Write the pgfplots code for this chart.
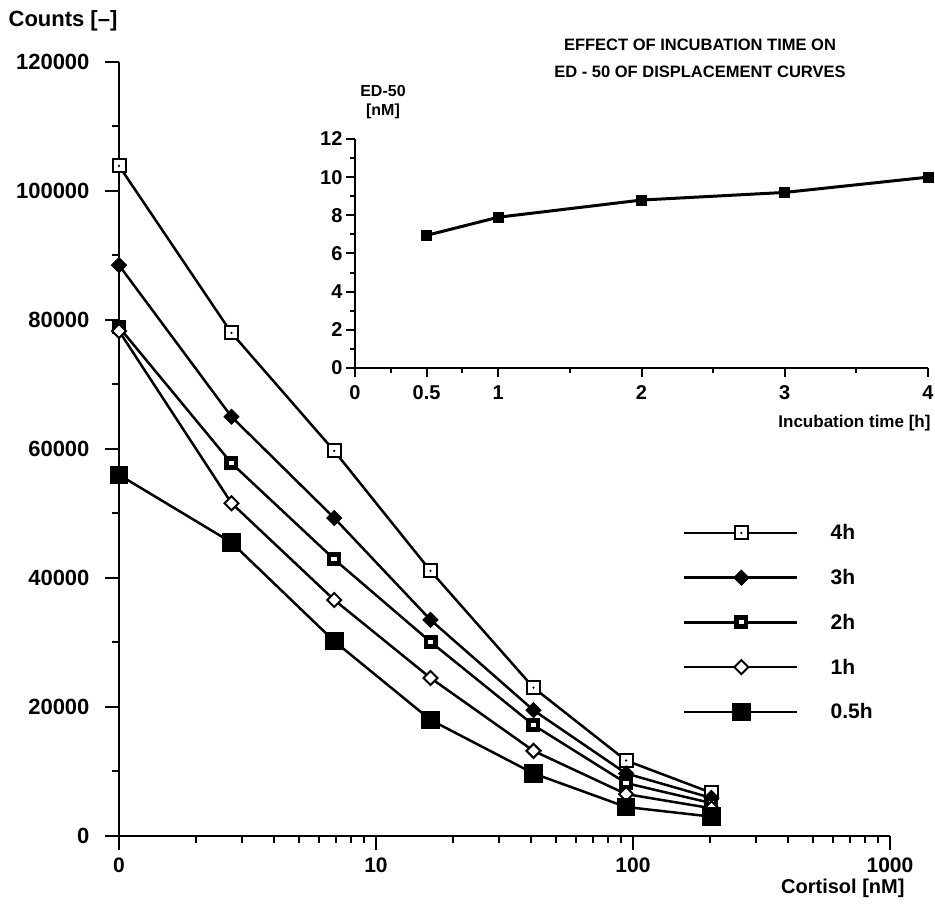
\documentclass[border=0pt]{standalone}
\usepackage{fontspec}
\setmainfont{Liberation Sans}
\usepackage{pgfplots}
\pgfplotsset{compat=1.18}

\pgfdeclareplotmark{sqdot}{%
  \pgfscope
  \pgfsetlinewidth{2pt}%
  \pgfpathrectangle{\pgfqpoint{-\pgfplotmarksize}{-\pgfplotmarksize}}{\pgfqpoint{2\pgfplotmarksize}{2\pgfplotmarksize}}%
  \pgfsetfillcolor{white}\pgfusepathqfillstroke
  \pgfpathcircle{\pgfpointorigin}{1.2pt}\pgfsetfillcolor{black}\pgfusepathqfill
  \endpgfscope
}
\pgfdeclareplotmark{sqhole}{%
  \pgfscope
  \pgfpathrectangle{\pgfqpoint{-\pgfplotmarksize}{-\pgfplotmarksize}}{\pgfqpoint{2\pgfplotmarksize}{2\pgfplotmarksize}}%
  \pgfsetfillcolor{black}\pgfusepathqfill
  \pgfpathrectangle{\pgfqpoint{-2.8pt}{-2pt}}{\pgfqpoint{5.6pt}{4pt}}%
  \pgfsetfillcolor{white}\pgfusepathqfill
  \endpgfscope
}
\pgfdeclareplotmark{diamondf}{%
  \pgfscope
  \pgfsetlinewidth{1pt}%
  \pgfpathmoveto{\pgfqpoint{0pt}{\pgfplotmarksize}}%
  \pgfpathlineto{\pgfqpoint{\pgfplotmarksize}{0pt}}%
  \pgfpathlineto{\pgfqpoint{0pt}{-\pgfplotmarksize}}%
  \pgfpathlineto{\pgfqpoint{-\pgfplotmarksize}{0pt}}%
  \pgfpathclose
  \pgfsetfillcolor{black}\pgfusepathqfillstroke
  \endpgfscope
}
\pgfdeclareplotmark{diamondo}{%
  \pgfscope
  \pgfsetlinewidth{2pt}%
  \pgfpathmoveto{\pgfqpoint{0pt}{\pgfplotmarksize}}%
  \pgfpathlineto{\pgfqpoint{\pgfplotmarksize}{0pt}}%
  \pgfpathlineto{\pgfqpoint{0pt}{-\pgfplotmarksize}}%
  \pgfpathlineto{\pgfqpoint{-\pgfplotmarksize}{0pt}}%
  \pgfpathclose
  \pgfsetfillcolor{white}\pgfusepathqfillstroke
  \endpgfscope
}

\begin{document}
\begin{tikzpicture}[font=\bfseries]
\useasboundingbox (0,0) rectangle (935pt,907pt);
\begin{axis}[
  at={(119pt,71pt)}, anchor=south west,
  scale only axis, width=771pt, height=774pt,
  xmode=log, xmin=1, xmax=1000, ymin=0, ymax=120000,
  axis lines*=left,
  axis line style={line width=2.5pt},
  xtick={1,10,100,1000}, xticklabels={0,10,100,1000},
  minor xtick={2,3,4,5,6,7,8,9,20,30,40,50,60,70,80,90,200,300,400,500,600,700,800,900},
  ytick={0,20000,40000,60000,80000,100000,120000},
  minor ytick={10000,30000,50000,70000,90000,110000},
  tick align=outside, major tick length=14pt, minor tick length=7pt,
  every tick/.style={line width=2pt, black},
  scaled y ticks=false,
  /pgf/number format/assume math mode=true,
  yticklabel style={/pgf/number format/fixed,/pgf/number format/1000 sep={}, xshift=-12pt, font=\fontsize{22}{26}\selectfont\bfseries},
  xticklabel style={yshift=-4pt, font=\fontsize{21}{25}\selectfont\bfseries},
  clip=false,
  legend style={at={(0.7276,0.4077)}, anchor=north west, draw=none, fill=none,
    font=\fontsize{21}{25}\selectfont\bfseries, row sep=24pt,
    /tikz/every odd column/.append style={column sep=30pt}},
  legend cell align=left,
  legend image code/.code={\draw[line width=2.5pt, mark repeat=2,mark phase=2] plot coordinates {(0pt,0pt) (57pt,0pt) (113pt,0pt)};},
]
\addplot[black, line width=2.5pt, mark=sqdot, mark size=6.5pt, mark options={solid}]
  coordinates {(1,103900) (2.74,78000) (6.88,59700) (16.3,41100) (41,23000) (94,11700) (202,6700)};
\addlegendentry{4h}
\addplot[black, line width=2.5pt, mark=diamondf, mark size=7.5pt, mark options={solid}]
  coordinates {(1,88500) (2.74,65000) (6.88,49300) (16.3,33500) (41,19500) (94,9700) (202,5900)};
\addlegendentry{3h}
\addplot[black, line width=2.5pt, mark=sqhole, mark size=7pt, mark options={solid}]
  coordinates {(1,78900) (2.74,57800) (6.88,42900) (16.3,30100) (41,17200) (94,8200) (202,5100)};
\addlegendentry{2h}
\addplot[black, line width=2.5pt, mark=diamondo, mark size=7pt, mark options={solid}]
  coordinates {(1,78300) (2.74,51600) (6.88,36600) (16.3,24500) (41,13200) (94,6500) (202,4300)};
\addlegendentry{1h}
\addplot[black, line width=2.5pt, mark=square*, mark size=8pt, mark options={fill=black, solid}]
  coordinates {(1,56000) (2.74,45500) (6.88,30200) (16.3,18000) (41,9700) (94,4500) (202,3000)};
\addlegendentry{0.5h}
\end{axis}

\begin{axis}[
  at={(355pt,539pt)}, anchor=south west,
  scale only axis, width=573pt, height=229pt,
  xmin=0, xmax=4, ymin=0, ymax=12,
  axis lines*=left,
  axis line style={line width=2.5pt},
  xtick={0,0.5,1,2,3,4}, xticklabels={0,0.5,1,2,3,4},
  minor xtick={0.25,0.75,1.5,2.5,3.5},
  ytick={0,2,4,6,8,10,12}, minor ytick={1,3,5,7,9,11},
  tick align=outside, major tick length=9pt, minor tick length=5pt,
  every tick/.style={line width=2pt, black},
  /pgf/number format/assume math mode=true,
  ticklabel style={font=\fontsize{20}{24}\selectfont\bfseries},
  xticklabel style={yshift=-5pt},
  clip=false,
]
\addplot[black, line width=3pt, mark=square*, mark size=4pt, mark options={solid}]
  coordinates {(0.5,6.95) (1,7.9) (2,8.8) (3,9.2) (4,10.0)};
\end{axis}

\node[font=\fontsize{22}{26}\selectfont\bfseries] at (63pt,886pt) {Counts [\textendash]};
\node[font=\fontsize{20}{24}\selectfont\bfseries, anchor=east] at (908pt,19pt) {Cortisol [nM]};
\node[font=\fontsize{16.5}{20}\selectfont\bfseries] at (700pt,862pt) {EFFECT OF INCUBATION TIME ON};
\node[font=\fontsize{16.5}{20}\selectfont\bfseries] at (700pt,835pt) {ED - 50 OF DISPLACEMENT CURVES};
\node[font=\fontsize{16}{19}\selectfont\bfseries] at (383pt,816pt) {ED-50};
\node[font=\fontsize{16}{19}\selectfont\bfseries] at (383pt,796pt) {[nM]};
\node[font=\fontsize{17}{20}\selectfont\bfseries, anchor=east] at (934pt,484pt) {Incubation time [h]};
\end{tikzpicture}
\end{document}
